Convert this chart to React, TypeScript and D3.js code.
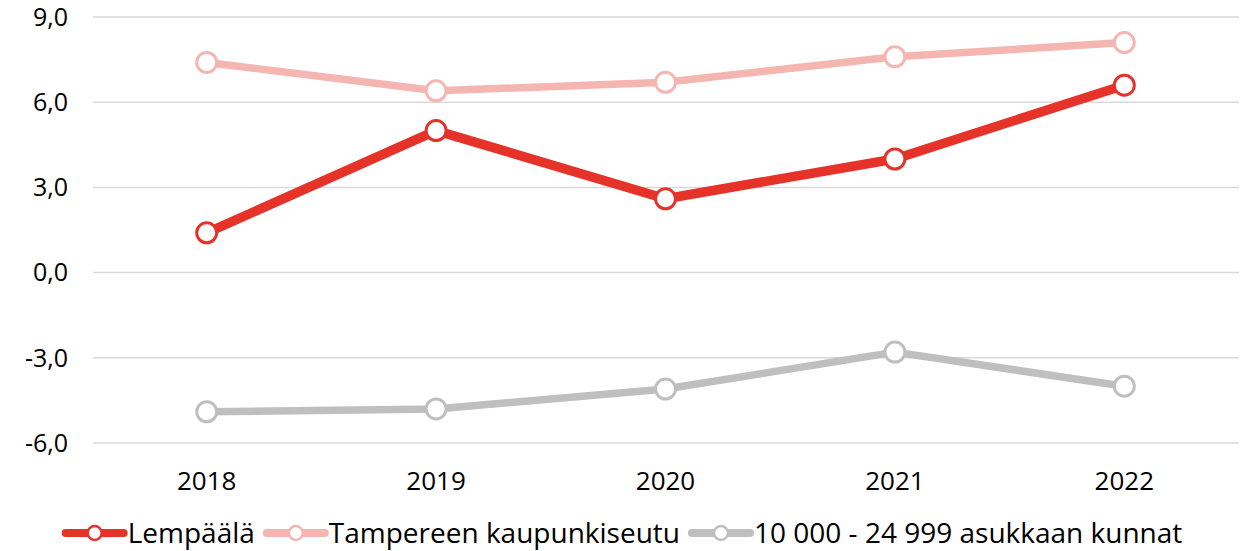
import React, { useRef, useEffect } from 'react';
import * as d3 from 'd3';

// Source values
const years = ['2018', '2019', '2020', '2021', '2022'];
const lempaala = [1.4, 5.0, 2.6, 4.0, 6.6];
const tampereen = [7.4, 6.4, 6.7, 7.6, 8.1];
const kunnat = [-4.9, -4.8, -4.1, -2.8, -4.0];
const yTicks = [-6, -3, 0, 3, 6, 9];

const seriesList = [
  { name: 'Lempäälä', values: lempaala, color: '#e5332a', width: 9.5 },
  { name: 'Tampereen kaupunkiseutu', values: tampereen, color: '#f5b6b2', width: 7.5 },
  { name: '10 000 - 24 999 asukkaan kunnat', values: kunnat, color: '#bfbfbf', width: 7.5 },
];

const FONT = '"Open Sans", Lato, sans-serif';

export default function App() {
  const svgRef = useRef<SVGSVGElement | null>(null);

  useEffect(() => {
    if (!svgRef.current) return;
    const svg = d3.select(svgRef.current);
    svg.selectAll('*').remove();

    const width = 1248;
    const margin = { top: 17, right: 9, bottom: 108, left: 93 };
    const plotBottom = 443;

    const locale = d3.formatLocale({ decimal: ',', thousands: ' ', grouping: [3], currency: ['', ''], minus: '-' });
    const fmt = locale.format('.1f');

    const x = d3.scaleBand<string>()
      .domain(years)
      .range([margin.left - 1, width - margin.right]);

    const y = d3.scaleLinear()
      .domain([-6, 9])
      .range([plotBottom, margin.top]);

    // Gridlines
    svg.append('g')
      .selectAll('line')
      .data(yTicks)
      .join('line')
      .attr('x1', margin.left)
      .attr('x2', width - margin.right)
      .attr('y1', d => y(d))
      .attr('y2', d => y(d))
      .attr('stroke', '#d9d9d9')
      .attr('stroke-width', 1.5);

    // Y labels
    svg.append('g')
      .selectAll('text')
      .data(yTicks)
      .join('text')
      .attr('x', 68)
      .attr('y', d => y(d))
      .attr('dy', '0.35em')
      .attr('text-anchor', 'end')
      .attr('font-family', FONT)
      .attr('font-size', 25)
      .attr('fill', '#000')
      .text(d => fmt(d));

    // X labels
    svg.append('g')
      .selectAll('text')
      .data(years)
      .join('text')
      .attr('x', d => (x(d) as number) + x.bandwidth() / 2)
      .attr('y', 490)
      .attr('text-anchor', 'middle')
      .attr('font-family', FONT)
      .attr('font-size', 26)
      .attr('fill', '#000')
      .text(d => d);

    const cx = (i: number) => (x(years[i]) as number) + x.bandwidth() / 2;
    const line = d3.line<number>()
      .x((_, i) => cx(i))
      .y(d => y(d));

    // Draw last series first so Lempäälä sits on top
    [...seriesList].reverse().forEach(s => {
      const g = svg.append('g');
      g.append('path')
        .datum(s.values)
        .attr('d', line)
        .attr('fill', 'none')
        .attr('stroke', s.color)
        .attr('stroke-width', s.width)
        .attr('stroke-linejoin', 'round');
      g.selectAll('circle')
        .data(s.values)
        .join('circle')
        .attr('cx', (_, i) => cx(i))
        .attr('cy', d => y(d))
        .attr('r', 10)
        .attr('fill', '#fff')
        .attr('stroke', s.color)
        .attr('stroke-width', 3);
    });

    // Legend, centred under the plot
    const legend = svg.append('g');
    const items = seriesList.map(s => {
      const g = legend.append('g');
      g.append('line')
        .attr('x1', 0).attr('x2', 58)
        .attr('y1', 0).attr('y2', 0)
        .attr('stroke', s.color)
        .attr('stroke-width', 8)
        .attr('stroke-linecap', 'round');
      g.append('circle')
        .attr('cx', 29).attr('cy', 0).attr('r', 7)
        .attr('fill', '#fff')
        .attr('stroke', s.color)
        .attr('stroke-width', 2.5);
      const t = g.append('text')
        .attr('x', 62)
        .attr('y', 0)
        .attr('dy', '0.35em')
        .attr('font-family', FONT)
        .attr('font-size', 28)
        .attr('fill', '#000')
        .text(s.name);
      const w = 62 + ((t.node() as SVGTextElement).getComputedTextLength());
      return { g, w };
    });
    const gap = 12;
    const total = d3.sum(items, d => d.w) + gap * (items.length - 1);
    let pos = (width - total) / 2;
    items.forEach(it => {
      it.g.attr('transform', `translate(${pos}, 533)`);
      pos += it.w + gap;
    });
  }, []);

  return (
    <div style={{ position: 'absolute', left: 0, top: 0 }}>
      <svg ref={svgRef} width={1248} height={551} style={{ display: 'block', background: '#fff' }} />
    </div>
  );
}
